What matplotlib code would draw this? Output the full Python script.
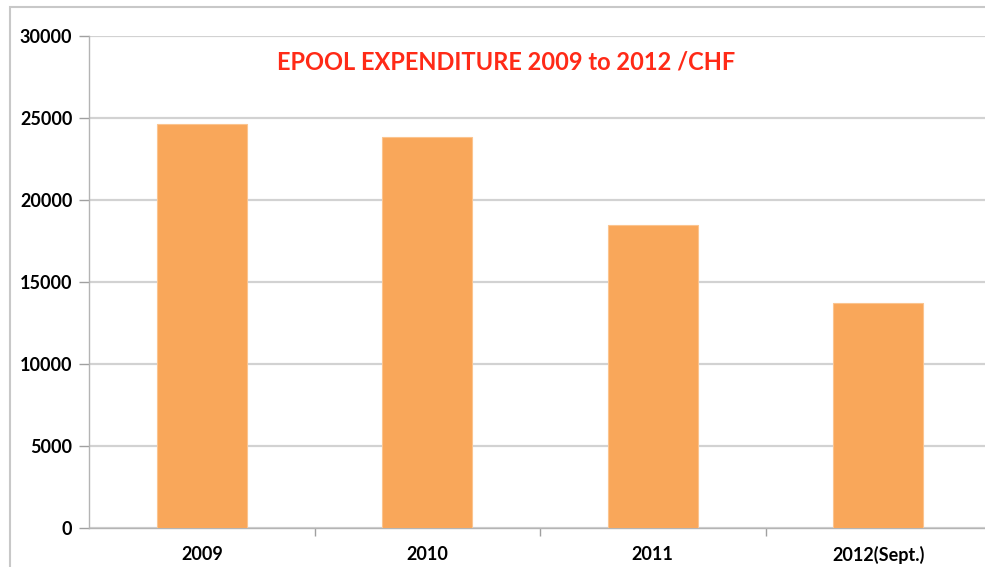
import matplotlib.pyplot as plt
from matplotlib.patches import Rectangle

years = ["2009", "2010", "2011", "2012(Sept.)"]
spend = [24630, 23820, 18480, 13700]

plt.rcParams['font.family'] = ['Lato', 'DejaVu Sans']

fig = plt.figure(figsize=(9.85, 5.67), dpi=100)
# axes area in pixels: left 89, right ~991, top 36, bottom 528
ax = fig.add_axes([89 / 985, 1 - 528 / 567, (991 - 89) / 985, (528 - 36) / 567])

# outer chart frame (partly cut off by the image edge)
fig.patches.append(Rectangle((10 / 985, -0.1), 1.2, 1 - 7 / 567 + 0.1,
                             transform=fig.transFigure, fill=False,
                             edgecolor='#c8c8c8', linewidth=1.5, zorder=0))

x = list(range(len(years)))
ax.bar(x, spend, width=0.40, color='#F9A75A', edgecolor='#FBC48F', linewidth=0.8, zorder=3)

ax.set_xlim(-0.5, len(years) - 0.5)
ax.set_ylim(0, 30000)
ax.set_yticks(range(0, 30001, 5000))
ax.yaxis.grid(True, color='#d2d2d2', linewidth=1.6, zorder=0)
ax.set_axisbelow(True)

ax.set_xticks(x)
ax.set_xticklabels(years, fontsize=13, fontweight='bold')
ax.set_xticks([i + 0.5 for i in x[:-1]], minor=True)
ax.tick_params(axis='x', which='major', length=0, pad=13)
ax.tick_params(axis='x', which='minor', length=6, color='#a0a0a0', width=1)
ax.tick_params(axis='y', length=7, color='#a0a0a0', width=1, pad=5, labelsize=13)
for lab in ax.get_yticklabels():
    lab.set_fontweight('bold')

for s in ['top', 'right']:
    ax.spines[s].set_visible(False)
for s in ['left', 'bottom']:
    ax.spines[s].set_color('#b4b4b4')
    ax.spines[s].set_linewidth(1)

fig.text(506 / 985, 1 - 62 / 567, "EPOOL EXPENDITURE 2009 to 2012 /CHF",
         ha='center', va='center', fontsize=17, fontweight='bold', color='#FF2A17')

fig.savefig('out.png', dpi=100)
